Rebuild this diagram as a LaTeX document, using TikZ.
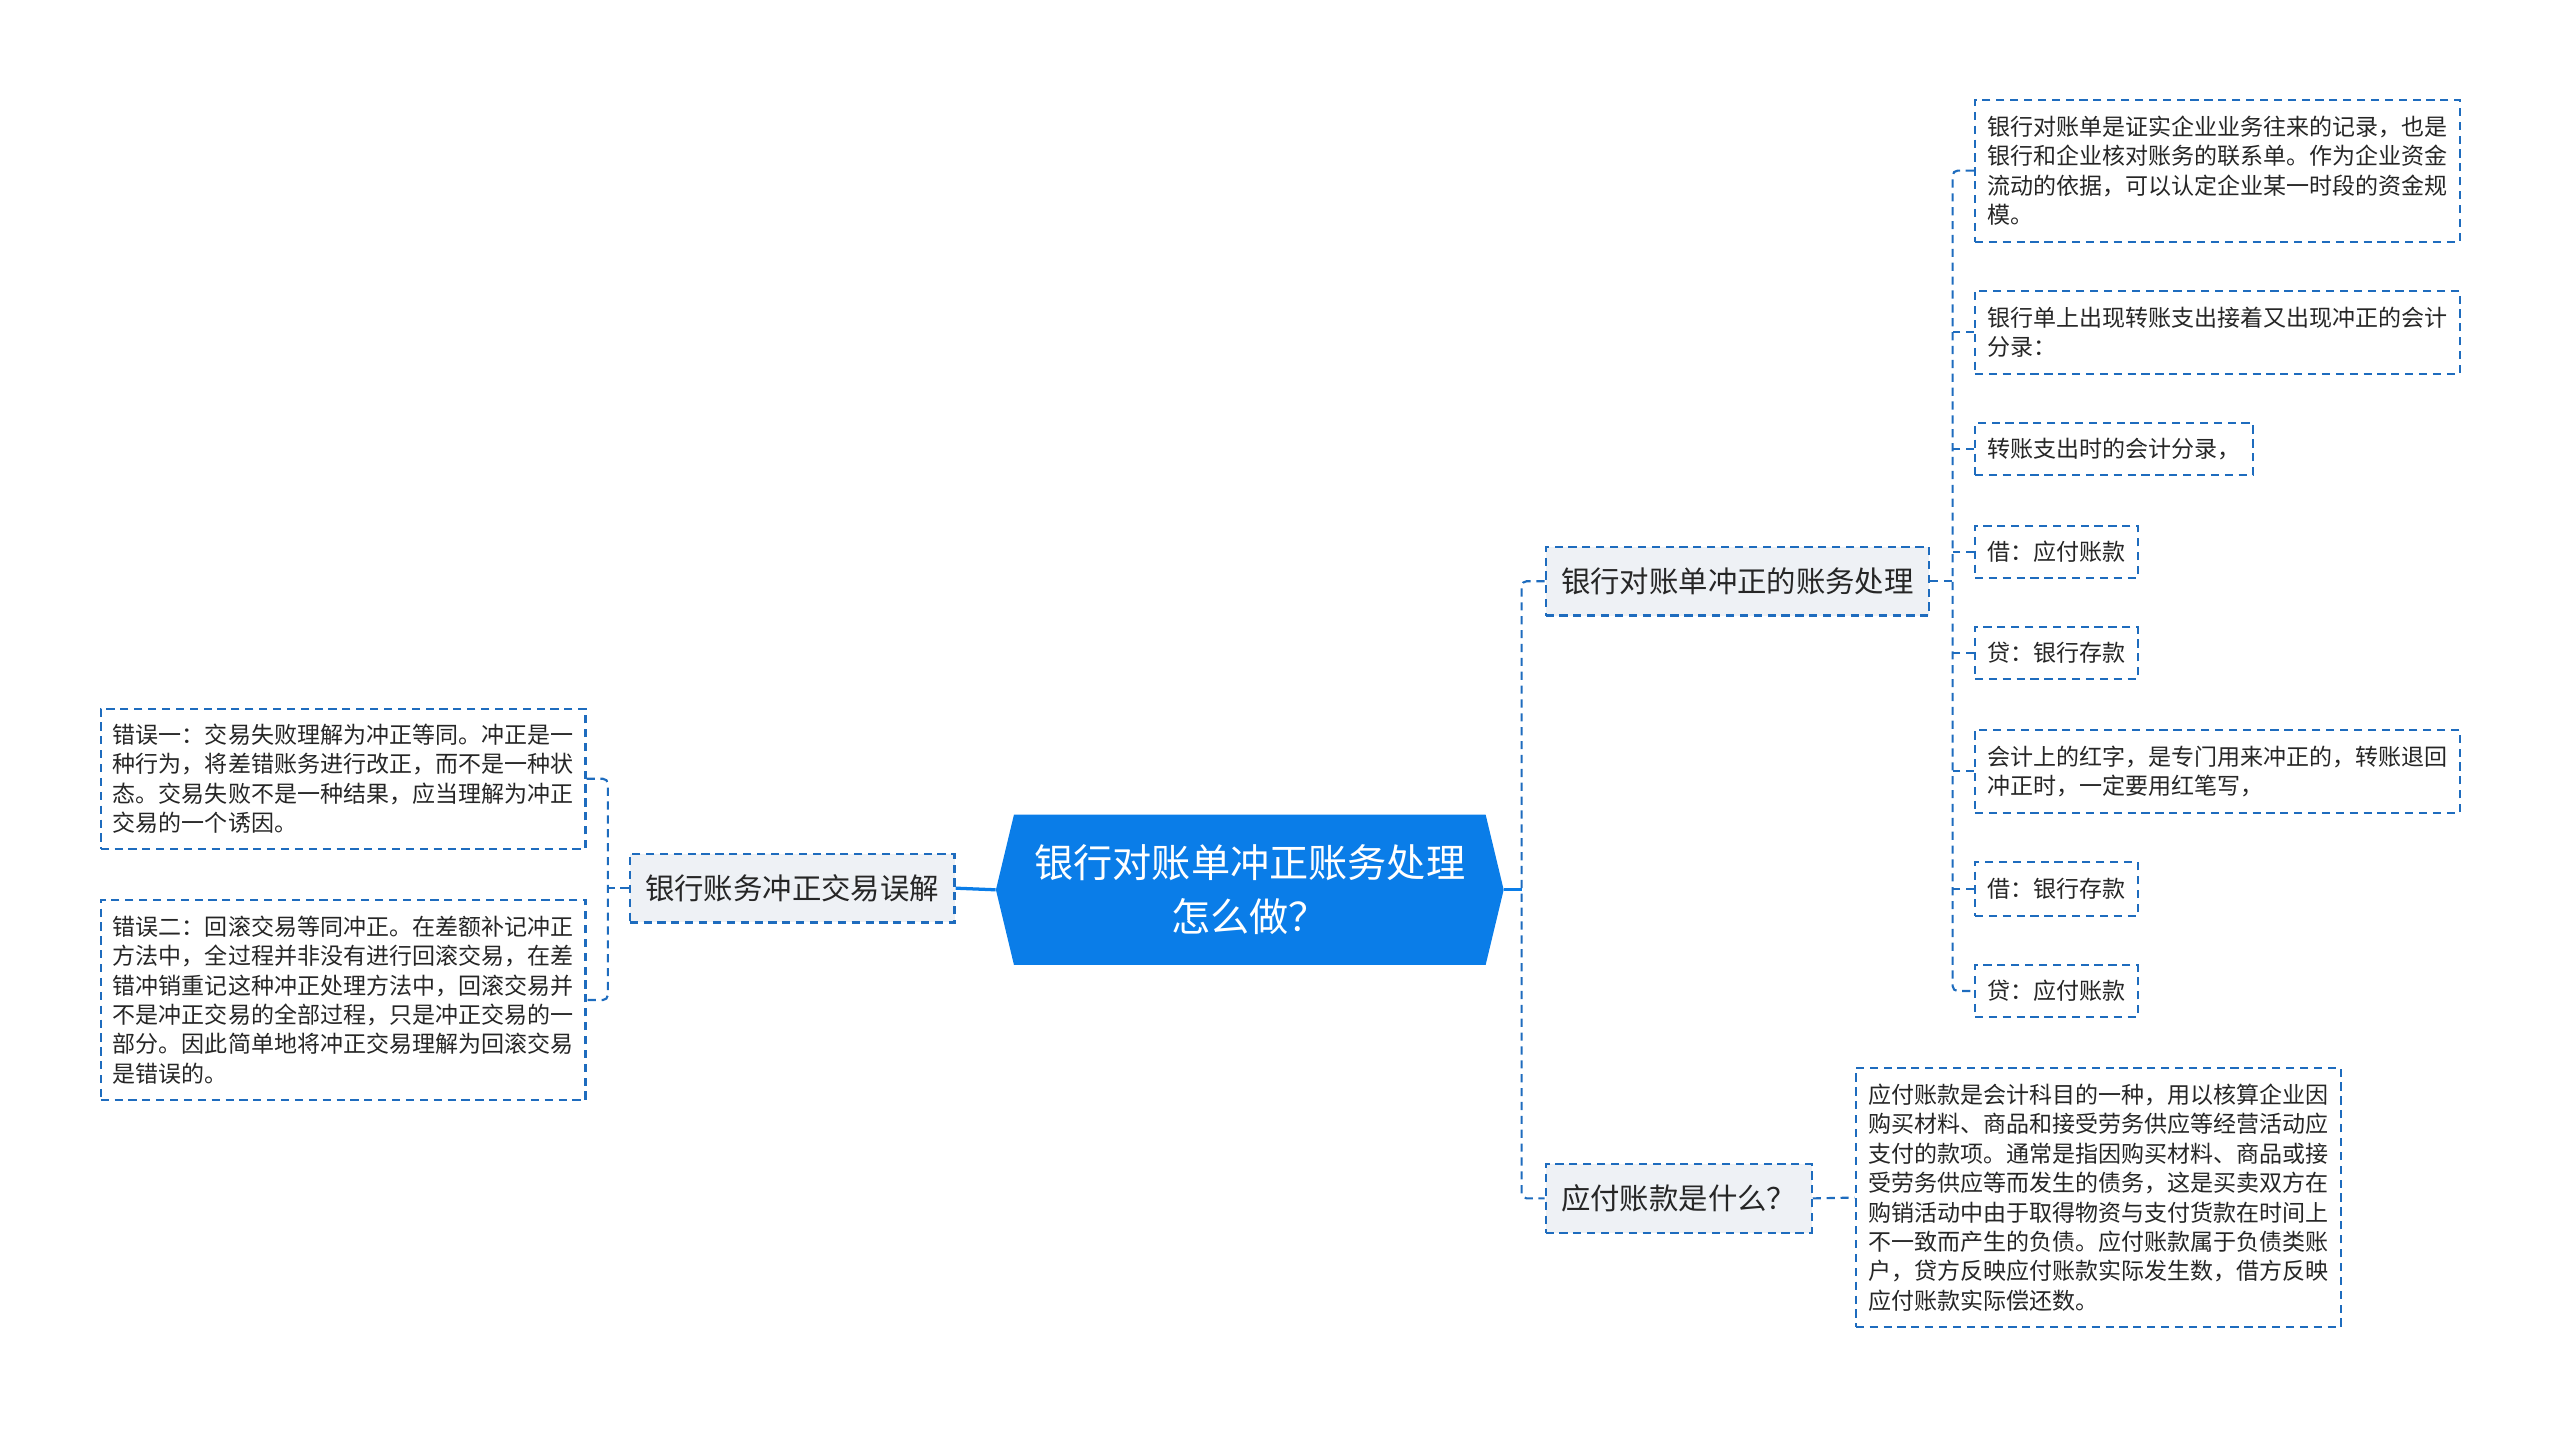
\documentclass[tikz,border=0pt]{standalone}
\usepackage{fontspec}
\newfontfamily\cjk{Noto Sans CJK SC}
\usetikzlibrary{shapes.symbols}
\definecolor{topicblue}{RGB}{10,125,232}
\definecolor{linkblue}{RGB}{30,108,190}
\definecolor{subfill}{RGB}{238,241,245}

\begin{document}
\begin{tikzpicture}[x=1pt,y=-1pt,
  topic/.style={signal,signal to=west and east,signal pointer angle=153,fill=topicblue,text=white,minimum width=311pt,minimum height=92pt,inner sep=0pt,align=center,font=\cjk\fontsize{24}{33}\selectfont},
  subtopic/.style={anchor=west,draw=linkblue,dash pattern=on 5pt off 3.5pt,line width=1.3pt,fill=subfill,inner xsep=9.5pt,inner ysep=0pt,minimum height=42pt,font=\cjk\fontsize{18}{22}\selectfont,text=black!85},
  leafbox/.style={anchor=west,draw=linkblue,dash pattern=on 5pt off 3.5pt,line width=1.3pt,inner xsep=7.5pt,inner ysep=0pt,align=left,font=\cjk\fontsize{14.1}{18}\selectfont,text=black!85},
  dashlink/.style={draw=linkblue,dash pattern=on 5pt off 3.5pt,line width=1.3pt,rounded corners=3pt},
  solidlink/.style={draw=topicblue,line width=2pt}]
  \useasboundingbox (0,0) rectangle (1568,875);
  \node[topic] (root) at (765.5,545) {银行对账单冲正账务处理\\怎么做？};
  \node[subtopic] (mis) at (385,544) {银行账务冲正交易误解};
  \node[subtopic] (recon) at (946,356) {银行对账单冲正的账务处理};
  \node[subtopic] (pay) at (946,734) {应付账款是什么？};
  \node[leafbox,minimum height=86pt] (m1) at (61,477) {错误一：交易失败理解为冲正等同。冲正是一\\种行为，将差错账务进行改正，而不是一种状\\态。交易失败不是一种结果，应当理解为冲正\\交易的一个诱因。};
  \node[leafbox,minimum height=123pt] (m2) at (61,612.5) {错误二：回滚交易等同冲正。在差额补记冲正\\方法中，全过程并非没有进行回滚交易，在差\\错冲销重记这种冲正处理方法中，回滚交易并\\不是冲正交易的全部过程，只是冲正交易的一\\部分。因此简单地将冲正交易理解为回滚交易\\是错误的。};
  \node[leafbox,minimum height=87pt] (r1) at (1209,104.5) {银行对账单是证实企业业务往来的记录，也是\\银行和企业核对账务的联系单。作为企业资金\\流动的依据，可以认定企业某一时段的资金规\\模。};
  \node[leafbox,minimum height=51pt] (r2) at (1209,203.5) {银行单上出现转账支出接着又出现冲正的会计\\分录：};
  \node[leafbox,minimum height=32pt] (r3) at (1209,275) {转账支出时的会计分录，};
  \node[leafbox,minimum height=32pt] (r4) at (1209,338) {借：应付账款};
  \node[leafbox,minimum height=32pt] (r5) at (1209,400) {贷：银行存款};
  \node[leafbox,minimum height=51pt] (r6) at (1209,472.5) {会计上的红字，是专门用来冲正的，转账退回\\冲正时，一定要用红笔写，};
  \node[leafbox,minimum height=33pt] (r7) at (1209,544.5) {借：银行存款};
  \node[leafbox,minimum height=32pt] (r8) at (1209,607) {贷：应付账款};
  \node[leafbox,minimum height=159pt] (p1) at (1136,733.5) {应付账款是会计科目的一种，用以核算企业因\\购买材料、商品和接受劳务供应等经营活动应\\支付的款项。通常是指因购买材料、商品或接\\受劳务供应等而发生的债务，这是买卖双方在\\购销活动中由于取得物资与支付货款在时间上\\不一致而产生的负债。应付账款属于负债类账\\户，贷方反映应付账款实际发生数，借方反映\\应付账款实际偿还数。};
  \draw[solidlink] (root.west) -- (mis.east);
  \draw[dashlink] (m1.east) -- ++(13,0) |- (m2.east);
  \draw[dashlink] (mis.west) -- ++(-14,0);
  \draw[solidlink] (root.east) -- ++(11,0);
  \draw[dashlink] (recon.west) -- ++(-14,0) |- (pay.west);
  \draw[dashlink] (recon.east) -- ++(14,0);
  \draw[dashlink] (r1.west) -- ++(-13,0) |- (r8.west);
  \foreach \n in {r2,r3,r4,r5,r6,r7}
    \draw[dashlink] (\n.west) -- ++(-13,0);
  \draw[dashlink] (pay.east) -- (p1.west);
\end{tikzpicture}
\end{document}
